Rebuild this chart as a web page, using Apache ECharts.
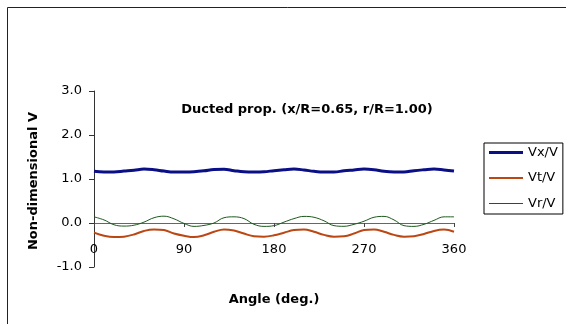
<!DOCTYPE html>
<html>
<head>
<meta charset="utf-8">
<script src="https://cdn.jsdelivr.net/npm/echarts@6/dist/echarts.min.js"></script>
<style>
  html, body { margin: 0; padding: 0; background: #fff; }
  #chart { width: 566px; height: 324px; }
</style>
</head>
<body>
<div id="chart"></div>
<script>
// Circumferential angle (deg.)
var angles = [0, 10, 20, 30, 40, 50, 60, 70, 80, 90, 100, 110, 120, 130, 140, 150, 160, 170, 180,
              190, 200, 210, 220, 230, 240, 250, 260, 270, 280, 290, 300, 310, 320, 330, 340, 350, 360];

// Axial velocity ratio
var vx = [1.175, 1.16, 1.16, 1.18, 1.20, 1.225, 1.21, 1.18, 1.16, 1.16, 1.165, 1.185, 1.215, 1.22, 1.19,
          1.165, 1.16, 1.165, 1.19, 1.21, 1.225, 1.205, 1.175, 1.16, 1.16, 1.185, 1.205, 1.225, 1.21,
          1.175, 1.16, 1.16, 1.19, 1.21, 1.225, 1.205, 1.18];

// Tangential velocity ratio
var vt = [-0.22, -0.29, -0.32, -0.31, -0.26, -0.18, -0.145, -0.16, -0.24, -0.29, -0.32, -0.28, -0.20,
          -0.145, -0.17, -0.24, -0.30, -0.31, -0.28, -0.22, -0.16, -0.145, -0.20, -0.27, -0.31, -0.30,
          -0.24, -0.16, -0.145, -0.20, -0.27, -0.31, -0.30, -0.25, -0.18, -0.15, -0.20];

// Radial velocity ratio
var vr = [0.14, 0.07, -0.04, -0.07, -0.05, 0.02, 0.12, 0.155, 0.095, -0.01, -0.077, -0.055, 0.0, 0.12,
          0.14, 0.10, -0.03, -0.077, -0.06, 0.02, 0.10, 0.15, 0.13, 0.05, -0.06, -0.075, -0.03, 0.04,
          0.13, 0.15, 0.07, -0.06, -0.077, -0.03, 0.06, 0.14, 0.14];

var seriesNames = ['Vx/V', 'Vt/V', 'Vr/V'];
var seriesColors = ['#0a0f86', '#bb4713', '#1d5a1d'];
var seriesWidths = [3, 2, 1];
var xTicks = [0, 90, 180, 270, 360];
var yTicks = [-1, 0, 1, 2, 3];

var titleText = 'Ducted prop. (x/R=0.65, r/R=1.00)';
var xTitle = 'Angle (deg.)';
var yTitle = 'Non-dimensional V';

function pairs(ys) {
  return angles.map(function (a, i) { return [a, ys[i]]; });
}

var FONT = '"DejaVu Sans", sans-serif';
var GRID_TOP = 91, GRID_H = 176;
var yMin = yTicks[0], yMax = yTicks[yTicks.length - 1];
// lift the category axis from the plot bottom up to the value 0
var zeroOffset = -GRID_H * (0 - yMin) / (yMax - yMin);

var chart = echarts.init(document.getElementById('chart'), null, { renderer: 'canvas' });

chart.setOption({
  backgroundColor: '#ffffff',
  animation: false,
  textStyle: { fontFamily: FONT },
  grid: { left: 94, right: 112, top: GRID_TOP, height: GRID_H, containLabel: false },
  xAxis: {
    type: 'value',
    min: xTicks[0],
    max: xTicks[xTicks.length - 1],
    interval: 90,
    offset: zeroOffset,
    axisLine: { onZero: false, lineStyle: { color: '#666666', width: 1 } },
    axisTick: { show: true, length: 4, lineStyle: { color: '#444444' } },
    axisLabel: { color: '#000', fontSize: 13, fontFamily: FONT, margin: 20 },
    splitLine: { show: false }
  },
  yAxis: {
    type: 'value',
    min: yMin,
    max: yMax,
    interval: 1,
    axisLine: { show: true, onZero: false, lineStyle: { color: '#333333', width: 1 } },
    axisTick: { show: true, length: 5, lineStyle: { color: '#333333' } },
    axisLabel: {
      color: '#000', fontSize: 13, fontFamily: FONT, margin: 12,
      formatter: function (v) { return v.toFixed(1); }
    },
    splitLine: { show: false }
  },
  legend: {
    orient: 'vertical',
    left: 484,
    top: 143,
    data: seriesNames.map(function (n, i) {
      return { name: n, icon: 'path://M0,0h34v' + seriesWidths[i] + 'h-34z' };
    }),
    symbolKeepAspect: true,
    backgroundColor: '#fff',
    borderColor: '#000',
    borderWidth: 1,
    padding: [3, 5, 4, 5],
    itemWidth: 34,
    itemHeight: 14,
    itemGap: 12.5,
    textStyle: { color: '#000', fontSize: 13, fontFamily: FONT }
  },
  graphic: [
    {
      type: 'rect', silent: true,
      shape: { x: 7.5, y: 7.5, width: 700, height: 500 },
      style: { fill: 'none', stroke: '#222', lineWidth: 1 }
    },
    {
      type: 'text', x: 307, y: 110,
      style: { text: titleText, font: 'bold 13px ' + FONT, fill: '#000', align: 'center', verticalAlign: 'middle' }
    },
    {
      type: 'text', x: 274, y: 300,
      style: { text: xTitle, font: 'bold 13px ' + FONT, fill: '#000', align: 'center', verticalAlign: 'middle' }
    },
    {
      type: 'text', x: 34, y: 181, rotation: Math.PI / 2,
      style: { text: yTitle, font: 'bold 13px ' + FONT, fill: '#000', align: 'center', verticalAlign: 'middle' }
    }
  ],
  series: seriesNames.map(function (n, i) {
    return {
      name: n, type: 'line', data: pairs([vx, vt, vr][i]), smooth: 0.4, symbol: 'none',
      lineStyle: { color: seriesColors[i], width: seriesWidths[i] },
      itemStyle: { color: seriesColors[i] }
    };
  })
});
</script>
</body>
</html>
